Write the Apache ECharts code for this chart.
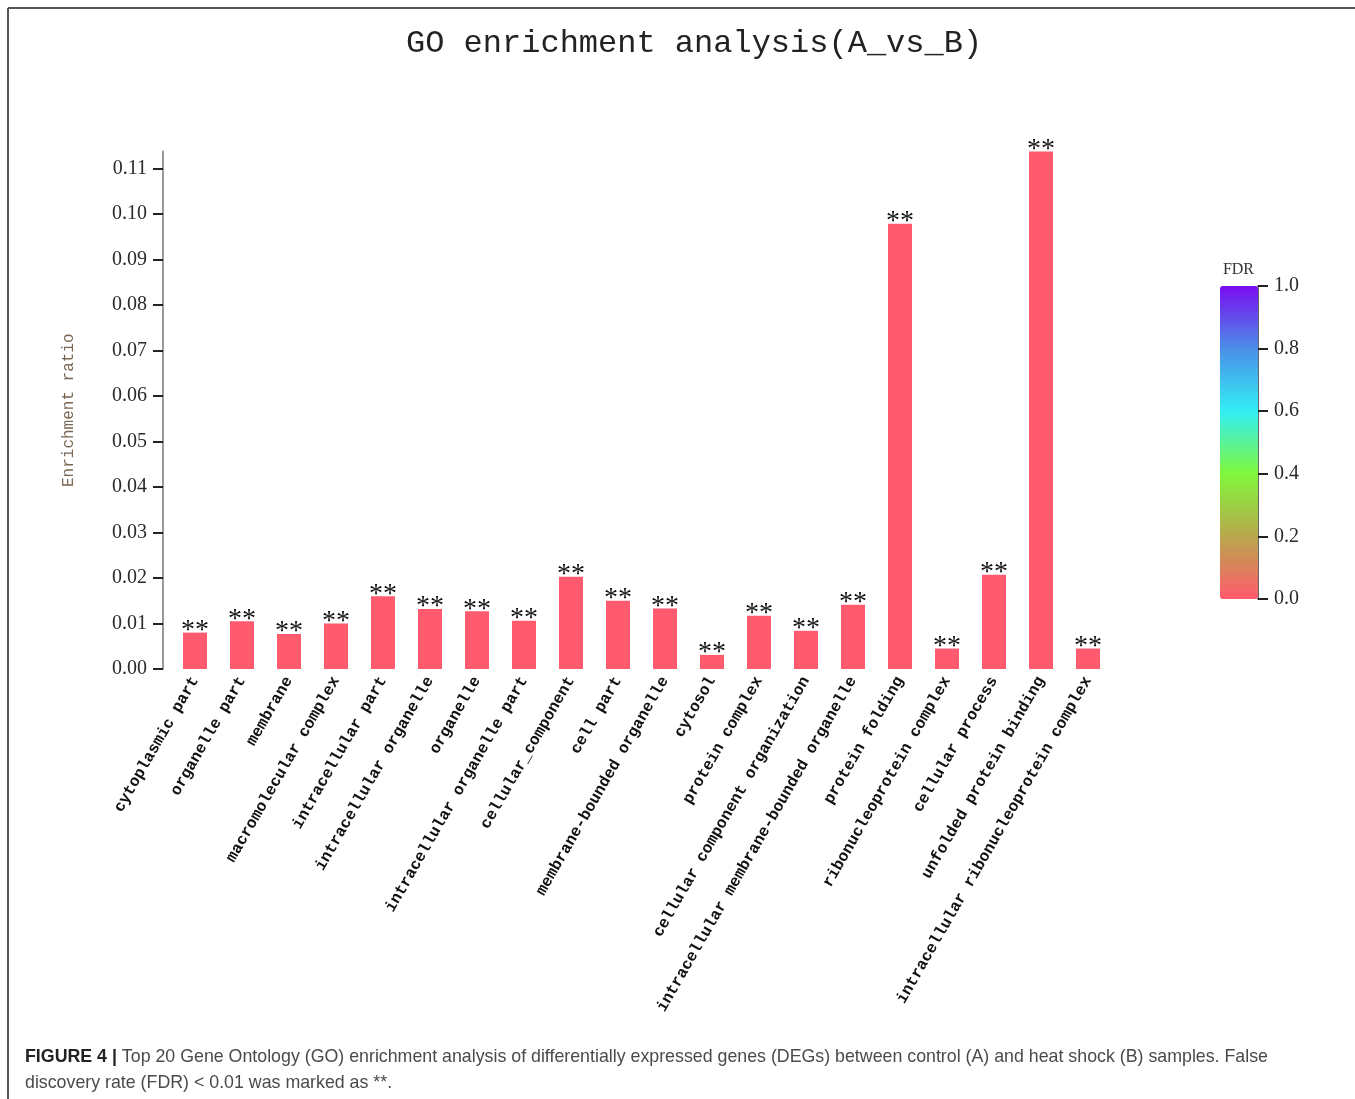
<!DOCTYPE html>
<html>
<head>
<meta charset="utf-8">
<title>GO enrichment analysis(A_vs_B)</title>
<script src="https://cdn.jsdelivr.net/npm/echarts@6/dist/echarts.min.js"></script>
<style>
  html, body { margin: 0; padding: 0; background: #ffffff; }
  #chart { width: 1355px; height: 1099px; }
</style>
</head>
<body>
<div id="chart"></div>
<script>
// GO terms (top 20), in plotting order
const goTerms = [
  'cytoplasmic part',
  'organelle part',
  'membrane',
  'macromolecular complex',
  'intracellular part',
  'intracellular organelle',
  'organelle',
  'intracellular organelle part',
  'cellular_component',
  'cell part',
  'membrane-bounded organelle',
  'cytosol',
  'protein complex',
  'cellular component organization',
  'intracellular membrane-bounded organelle',
  'protein folding',
  'ribonucleoprotein complex',
  'cellular process',
  'unfolded protein binding',
  'intracellular ribonucleoprotein complex'
];

// Enrichment ratio of each term
const enrichmentRatio = [
  0.0080, 0.0105, 0.0077, 0.0100, 0.0160,
  0.0132, 0.0127, 0.0106, 0.0203, 0.0150,
  0.0133, 0.0031, 0.0117, 0.0084, 0.0141,
  0.0979, 0.0045, 0.0207, 0.1138, 0.0045
];

// Significance mark shown above each bar (FDR < 0.01)
const significance = [
  '**', '**', '**', '**', '**', '**', '**', '**', '**', '**',
  '**', '**', '**', '**', '**', '**', '**', '**', '**', '**'
];

// FDR colour scale, from 0.0 (bottom) to 1.0 (top)
const fdrColors = ['#ff5a6e', '#b8a84c', '#80f73c', '#33eff4', '#4a8ee8', '#7a0cf0'];
const fdrRange = [0, 1];

const serif = '"Liberation Serif", "DejaVu Serif", serif';
const mono = '"Liberation Mono", "DejaVu Sans Mono", monospace';
const sans = '"Liberation Sans", Arial, sans-serif';

const chart = echarts.init(document.getElementById('chart'), null, { renderer: 'canvas' });

const option = {
  backgroundColor: '#ffffff',
  animation: false,
  title: {
    text: 'GO enrichment analysis(A_vs_B)',
    left: 401,
    top: 23,
    textStyle: {
      fontFamily: mono,
      fontSize: 32,
      fontWeight: 'normal',
      color: '#222222'
    }
  },
  grid: [
    { left: 171.5, top: 151.4, width: 940, height: 517.6 },
    { left: 1220, top: 286, width: 38, height: 313 }
  ],
  xAxis: [
    {
      type: 'category',
      gridIndex: 0,
      data: goTerms,
      axisLine: { show: false },
      axisTick: { show: false },
      axisLabel: {
        rotate: 60,
        margin: 9,
        interval: 0,
        fontFamily: mono,
        fontSize: 16,
        fontWeight: 'bold',
        color: '#111111'
      }
    },
    {
      type: 'category',
      gridIndex: 1,
      data: ['FDR'],
      show: false
    }
  ],
  yAxis: [
    {
      type: 'value',
      gridIndex: 0,
      min: 0,
      max: 'dataMax',
      interval: 0.01,
      offset: 8.5,
      name: 'Enrichment ratio',
      nameLocation: 'middle',
      nameGap: 86,
      nameTextStyle: {
        fontFamily: mono,
        fontSize: 16,
        color: '#7a6652'
      },
      axisLine: { show: true, lineStyle: { color: '#999999', width: 2 } },
      axisTick: { show: true, length: 10, lineStyle: { color: '#222222', width: 2 } },
      splitLine: { show: false },
      axisLabel: {
        showMaxLabel: false,
        margin: 16,
        fontFamily: serif,
        fontSize: 20,
        color: '#2a2a2a',
        formatter: v => v.toFixed(2)
      }
    },
    {
      type: 'value',
      gridIndex: 1,
      position: 'right',
      min: fdrRange[0],
      max: fdrRange[1],
      interval: 0.2,
      name: 'FDR',
      nameLocation: 'end',
      nameGap: 8,
      nameTextStyle: {
        fontFamily: serif,
        fontSize: 16,
        color: '#333333',
        align: 'right',
        padding: [0, 4, 0, 0]
      },
      axisLine: { show: true, lineStyle: { color: '#333333', width: 1.5 } },
      axisTick: { show: true, length: 10, lineStyle: { color: '#222222', width: 2 } },
      splitLine: { show: false },
      axisLabel: {
        margin: 16,
        fontFamily: serif,
        fontSize: 20,
        color: '#2a2a2a',
        formatter: v => v.toFixed(1)
      }
    }
  ],
  visualMap: {
    type: 'continuous',
    min: fdrRange[0],
    max: fdrRange[1],
    seriesIndex: [],
    calculable: false,
    hoverLink: false,
    orient: 'vertical',
    left: 1220,
    top: 286,
    padding: 0,
    itemWidth: 38,
    itemHeight: 313,
    text: null,
    inRange: { color: fdrColors }
  },
  series: [
    {
      type: 'bar',
      xAxisIndex: 0,
      yAxisIndex: 0,
      data: enrichmentRatio,
      barWidth: 24,
      itemStyle: { color: fdrColors[0] },
      label: {
        show: true,
        position: 'top',
        distance: -12,
        fontFamily: serif,
        fontSize: 28,
        color: '#111111',
        formatter: p => significance[p.dataIndex]
      }
    }
  ],
  graphic: [
    {
      type: 'line',
      shape: { x1: 8, y1: 8, x2: 1355, y2: 8 },
      style: { stroke: '#555555', lineWidth: 2 }
    },
    {
      type: 'line',
      shape: { x1: 8, y1: 8, x2: 8, y2: 1099 },
      style: { stroke: '#555555', lineWidth: 2 }
    },
    {
      type: 'text',
      left: 25,
      top: 1044,
      style: {
        text: '{b|FIGURE 4 |} Top 20 Gene Ontology (GO) enrichment analysis of differentially expressed genes (DEGs) between control (A) and heat shock (B) samples. False\ndiscovery rate (FDR) < 0.01 was marked as **.',
        fontFamily: sans,
        fontSize: 17.8,
        lineHeight: 26,
        fill: '#4a4a4a',
        rich: {
          b: { fontFamily: sans, fontSize: 17.8, fontWeight: 'bold', fill: '#222222', lineHeight: 26 }
        }
      }
    }
  ]
};

chart.setOption(option);
</script>
</body>
</html>
